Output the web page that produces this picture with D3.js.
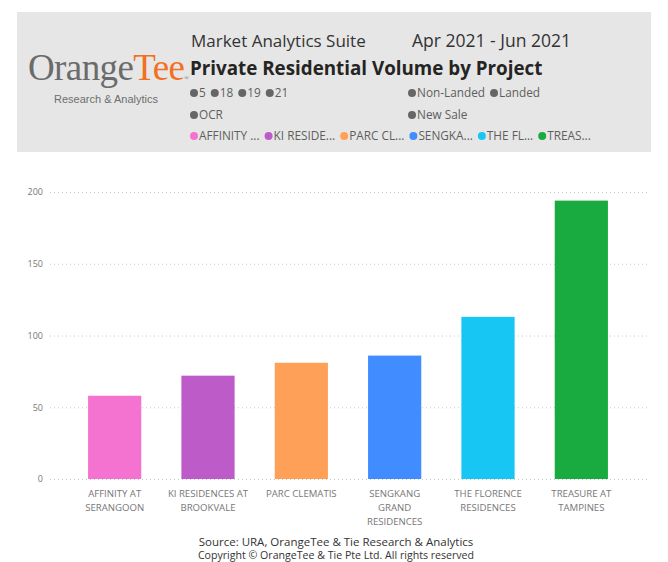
<!DOCTYPE html>
<html>
<head>
<meta charset="utf-8">
<script src="https://cdn.jsdelivr.net/npm/d3@7"></script>
<style>
  body { margin: 0; background: #fff; font-family: "Open Sans", "Noto Sans", sans-serif; }
  svg text { font-family: "Open Sans", "Noto Sans", sans-serif; }
</style>
</head>
<body>
<div id="chart"></div>
<script>
// data
var projects = ['AFFINITY AT SERANGOON', 'KI RESIDENCES AT BROOKVALE', 'PARC CLEMATIS',
  'SENGKANG GRAND RESIDENCES', 'THE FLORENCE RESIDENCES', 'TREASURE AT TAMPINES'];
var tickLines = [['AFFINITY AT', 'SERANGOON'], ['KI RESIDENCES AT', 'BROOKVALE'], ['PARC CLEMATIS'],
  ['SENGKANG', 'GRAND', 'RESIDENCES'], ['THE FLORENCE', 'RESIDENCES'], ['TREASURE AT', 'TAMPINES']];
var volumes = [58, 72, 81, 86, 113, 194];
var colors = ['#f472d0', '#bd5cc8', '#ffa058', '#418cff', '#17c6f3', '#1aab40'];
var legendShort = ['AFFINITY ...', 'KI RESIDE...', 'PARC CL...', 'SENGKA...', 'THE FL...', 'TREAS...'];
var yTicks = [0, 50, 100, 150, 200];
var filterRow1a = ['5', '18', '19', '21'];
var filterRow1b = ['Non-Landed', 'Landed'];
var filterRow2a = ['OCR'];
var filterRow2b = ['New Sale'];

var width = 668, height = 562;

var svg = d3.select('#chart').append('svg')
  .attr('width', width)
  .attr('height', height);

// header box
svg.append('rect')
  .attr('x', 17).attr('y', 12)
  .attr('width', 634).attr('height', 140)
  .attr('fill', '#e6e6e6');

// logo
var logo = svg.append('text')
  .attr('x', 28).attr('y', 80)
  .style('font-family', '"Liberation Serif", "DejaVu Serif", serif')
  .style('font-size', '37px')
  .style('letter-spacing', '-0.6px');
logo.append('tspan').attr('fill', '#6b6b6b').text('Orange');
logo.append('tspan').attr('fill', '#f37021').text('Tee');
logo.append('tspan').attr('fill', '#6b6b6b').style('font-size', '6px').text('®');

svg.append('text')
  .attr('x', 106).attr('y', 103)
  .attr('text-anchor', 'middle')
  .attr('fill', '#6e6e6e')
  .style('font-family', '"Liberation Sans", Arial, sans-serif')
  .style('font-size', '11px')
  .text('Research & Analytics');

// header texts
svg.append('text')
  .attr('x', 191).attr('y', 47)
  .attr('fill', '#333')
  .style('font-size', '17px')
  .text('Market Analytics Suite');

svg.append('text')
  .attr('x', 412).attr('y', 47)
  .attr('fill', '#333')
  .style('font-size', '17.5px')
  .text('Apr 2021 - Jun 2021');

svg.append('text')
  .attr('x', 190).attr('y', 75)
  .attr('fill', '#252423')
  .style('font-size', '18.8px')
  .style('font-weight', 'bold')
  .text('Private Residential Volume by Project');

// slicer style legend rows
function legendRow(items, cols, x, y, gap) {
  var g = svg.append('g').attr('transform', 'translate(' + x + ',' + y + ')');
  var cx = 0;
  items.forEach(function(d, i) {
    g.append('circle')
      .attr('cx', cx + 4).attr('cy', -4)
      .attr('r', 4)
      .attr('fill', cols[i]);
    var t = g.append('text')
      .attr('x', cx + 9).attr('y', 0)
      .attr('fill', '#605e5c')
      .style('font-size', '11.8px')
      .text(d);
    cx += 9 + t.node().getComputedTextLength() + gap;
  });
}
function grey(n) { return d3.range(n).map(function() { return '#666'; }); }

legendRow(filterRow1a, grey(4), 190, 97, 5);
legendRow(filterRow1b, grey(2), 408, 97, 5);
legendRow(filterRow2a, grey(1), 190, 119, 5);
legendRow(filterRow2b, grey(1), 408, 119, 5);
legendRow(legendShort, colors, 190, 140, 5);

// chart
var y = d3.scaleLinear()
  .domain([0, 200])
  .range([479, 192]);

var x = d3.scaleBand()
  .domain(projects)
  .range([68, 628])
  .paddingInner(0.43)
  .paddingOuter(0.215);

var grid = svg.append('g');
grid.selectAll('line')
  .data(yTicks)
  .enter().append('line')
  .attr('x1', 50).attr('x2', 648)
  .attr('y1', function(d) { return y(d) + 0.5; })
  .attr('y2', function(d) { return y(d) + 0.5; })
  .attr('stroke', '#c8c8c8')
  .attr('stroke-width', 1)
  .attr('stroke-dasharray', '1,3');

var yAxis = d3.axisLeft(y)
  .tickValues(yTicks)
  .tickSize(0)
  .tickPadding(0);

svg.append('g')
  .attr('transform', 'translate(43,0)')
  .call(yAxis)
  .call(function(g) { g.select('.domain').remove(); })
  .selectAll('text')
  .attr('fill', '#777')
  .style('font-size', '9px');

svg.selectAll('.bar')
  .data(projects)
  .enter().append('rect')
  .attr('class', 'bar')
  .attr('x', function(d) { return x(d); })
  .attr('y', function(d, i) { return y(volumes[i]); })
  .attr('width', x.bandwidth())
  .attr('height', function(d, i) { return y(0) - y(volumes[i]); })
  .attr('fill', function(d, i) { return colors[i]; });

var xAxis = d3.axisBottom(x).tickSize(0).tickFormat('');
var xg = svg.append('g')
  .attr('transform', 'translate(0,479)')
  .call(xAxis);
xg.select('.domain').remove();
xg.selectAll('.tick').each(function(d, i) {
  var t = d3.select(this).select('text')
    .attr('y', 18)
    .attr('dy', 0)
    .attr('fill', '#777')
    .style('font-size', '9.6px');
  tickLines[i].forEach(function(line, j) {
    t.append('tspan')
      .attr('x', 0)
      .attr('dy', j === 0 ? 0 : 14)
      .text(line);
  });
});

// footer
svg.append('text')
  .attr('x', 336).attr('y', 546)
  .attr('text-anchor', 'middle')
  .attr('fill', '#333')
  .style('font-size', '11.5px')
  .text('Source: URA, OrangeTee & Tie Research & Analytics');

svg.append('text')
  .attr('x', 336).attr('y', 559)
  .attr('text-anchor', 'middle')
  .attr('fill', '#333')
  .style('font-size', '10.6px')
  .text('Copyright \u00a9 OrangeTee & Tie Pte Ltd. All rights reserved');
</script>
</body>
</html>
